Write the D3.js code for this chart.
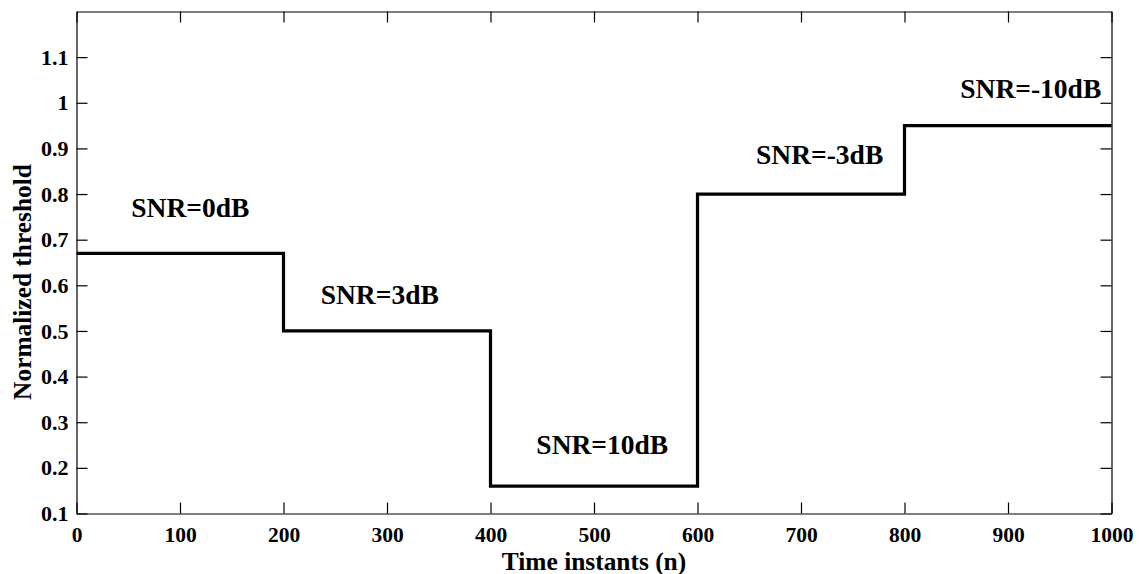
<!DOCTYPE html>
<html>
<head>
<meta charset="utf-8">
<script src="https://cdn.jsdelivr.net/npm/d3@7"></script>
<style>
  body { margin: 0; background: #fff; }
  text { font-family: "Liberation Serif", "Times New Roman", serif; font-weight: bold; fill: #000; }
</style>
</head>
<body>
<div class="chart"></div>
<script>
// step boundaries (time instants) and threshold level in each interval
const stepStarts = [0, 200, 400, 600, 800, 1000];
const levels = [0.67, 0.5, 0.16, 0.8, 0.95, 0.95];

// annotations
const snrLabels = ["SNR=0dB", "SNR=3dB", "SNR=10dB", "SNR=-3dB", "SNR=-10dB"];
const labelX = [110, 293, 508, 718, 922];
const labelY = [0.75, 0.56, 0.23, 0.865, 1.01];

const xTicks = [0, 100, 200, 300, 400, 500, 600, 700, 800, 900, 1000];
const yTicks = [0.1, 0.2, 0.3, 0.4, 0.5, 0.6, 0.7, 0.8, 0.9, 1, 1.1];

const W = 1140, H = 574;
const plotLeft = 76.5, plotRight = 1111.5, plotTop = 11.5, plotBottom = 513.5;

const svg = d3.select(".chart").append("svg").attr("width", W).attr("height", H);

const x = d3.scaleLinear().domain([0, 1000]).range([plotLeft, plotRight]);
const y = d3.scaleLinear().domain([0.1, 1.2]).range([plotBottom, plotTop]);

// axes with inward ticks on all four sides
const tickLen = 11;
svg.append("g")
  .attr("transform", "translate(0," + plotBottom + ")")
  .call(d3.axisBottom(x).tickValues(xTicks).tickSizeInner(-tickLen).tickSizeOuter(0).tickPadding(13).tickFormat(d3.format("")))
  .call(g => g.selectAll("text").attr("font-size", 21.5).attr("dy", "0.7em"));
svg.append("g")
  .attr("transform", "translate(0," + plotTop + ")")
  .call(d3.axisTop(x).tickValues(xTicks).tickSizeInner(-tickLen).tickSizeOuter(0).tickFormat(""));
svg.append("g")
  .attr("transform", "translate(" + plotLeft + ",0)")
  .call(d3.axisLeft(y).tickValues(yTicks).tickSizeInner(-tickLen).tickSizeOuter(0).tickPadding(8).tickFormat(d3.format("")))
  .call(g => g.selectAll("text").attr("font-size", 22));
svg.append("g")
  .attr("transform", "translate(" + plotRight + ",0)")
  .call(d3.axisRight(y).tickValues(yTicks).tickSizeInner(-tickLen).tickSizeOuter(0).tickFormat(""));

svg.selectAll(".domain").attr("stroke", "#000").attr("stroke-width", 1.2);
svg.selectAll(".tick line").attr("stroke", "#000").attr("stroke-width", 1.2);
svg.selectAll(".tick text").attr("font-family", "Liberation Serif").attr("font-weight", "bold").attr("fill", "#000");

// threshold step line
const pts = stepStarts.map((s, i) => [s, levels[i]]);
const line = d3.line()
  .x(d => x(d[0]))
  .y(d => y(d[1]))
  .curve(d3.curveStepAfter);
svg.append("path")
  .datum(pts)
  .attr("d", line)
  .attr("fill", "none")
  .attr("stroke", "#000")
  .attr("stroke-width", 3.2);

// SNR annotations
svg.selectAll(".snr")
  .data(snrLabels)
  .enter()
  .append("text")
  .attr("class", "snr")
  .attr("x", (d, i) => x(labelX[i]))
  .attr("y", (d, i) => y(labelY[i]))
  .attr("text-anchor", "middle")
  .attr("font-size", 27.5)
  .text(d => d);

// axis titles
svg.append("text")
  .attr("x", (plotLeft + plotRight) / 2)
  .attr("y", 570)
  .attr("text-anchor", "middle")
  .attr("font-size", 25.4)
  .text("Time instants (n)");
svg.append("text")
  .attr("transform", "translate(31," + 282 + ") rotate(-90)")
  .attr("text-anchor", "middle")
  .attr("font-size", 25.4)
  .text("Normalized threshold");
</script>
</body>
</html>
